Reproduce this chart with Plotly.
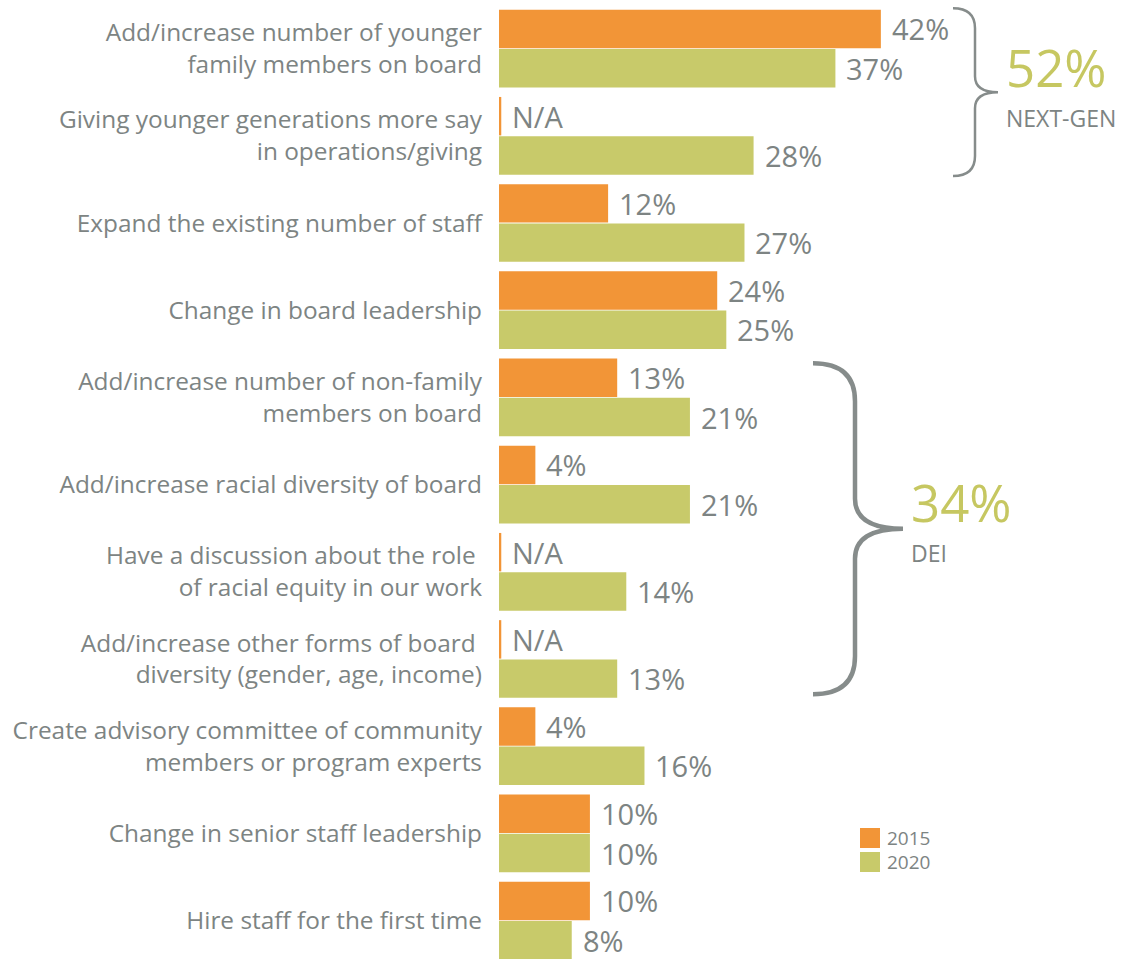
import plotly.graph_objects as go

# ---- data -------------------------------------------------------------
categories = [
    "Add/increase number of younger<br>family members on board",
    "Giving younger generations more say<br>in operations/giving",
    "Expand the existing number of staff",
    "Change in board leadership",
    "Add/increase number of non-family<br>members on board",
    "Add/increase racial diversity of board",
    "Have a discussion about the role\u00a0<br>of racial equity in our work",
    "Add/increase other forms of board\u00a0<br>diversity (gender, age, income)",
    "Create advisory committee of community<br>members or program experts",
    "Change in senior staff leadership",
    "Hire staff for the first time",
]
values_2015 = [42, None, 12, 24, 13, 4, None, None, 4, 10, 10]
values_2020 = [37, 28, 27, 25, 21, 21, 14, 13, 16, 10, 8]

group_names = ["NEXT-GEN", "DEI"]
group_totals = [52, 34]
group_first = [0, 4]
group_last = [1, 7]

# ---- style --------------------------------------------------------------
ORANGE = "#F29537"
GREEN = "#C8CA6A"
GREEN_TEXT = "#C6C761"
GRAY = "#7D8483"
BRACE = "#868C8B"
FONT = "Open Sans"

W, H = 1130, 959
ML, MT = 499, 5
X_MAX = 69.4
PITCH = 87.2                      # pixels per category row
Y_TOP = -0.5
Y_BOTTOM = Y_TOP + (H - MT) / PITCH
PX_PER_PCT = (W - ML) / X_MAX
NA_STUB = 0.25                    # thin sliver drawn where no 2015 figure exists

positions = list(range(len(categories)))
bars_2015 = [v if v is not None else NA_STUB for v in values_2015]


def px_to_x(px):
    return (px - ML) / PX_PER_PCT


def py_to_y(py):
    return (py - MT) / PITCH + Y_TOP


fig = go.Figure()
fig.add_trace(go.Bar(y=positions, x=bars_2015, orientation="h", name="2015",
                     marker=dict(color=ORANGE, line=dict(width=0)),
                     hoverinfo="skip"))
fig.add_trace(go.Bar(y=positions, x=values_2020, orientation="h", name="2020",
                     marker=dict(color=GREEN, line=dict(width=0)),
                     hoverinfo="skip"))

annotations = []
# value labels next to each bar
for i, (a, b) in enumerate(zip(values_2015, values_2020)):
    annotations.append(dict(
        x=bars_2015[i], y=i - 0.225, xref="x", yref="y",
        text=f"{a}%" if a is not None else "N/A",
        xanchor="left", yanchor="middle", xshift=9, showarrow=False,
        font=dict(family=FONT, size=29, color=GRAY)))
    annotations.append(dict(
        x=b, y=i + 0.225, xref="x", yref="y", text=f"{b}%",
        xanchor="left", yanchor="middle", xshift=9, showarrow=False,
        font=dict(family=FONT, size=29, color=GRAY)))

shapes = []


def brace_path(x0, xv, xt, yt, ym, yb, ry, ry2):
    """Right-facing curly brace; all inputs in pixels."""
    pts = [
        ("M", [(x0, yt)]),
        ("Q", [(xv, yt), (xv, yt + ry)]),
        ("L", [(xv, ym - ry2)]),
        ("Q", [(xv, ym), (xt, ym)]),
        ("Q", [(xv, ym), (xv, ym + ry2)]),
        ("L", [(xv, yb - ry)]),
        ("Q", [(xv, yb), (x0, yb)]),
    ]
    out = []
    for cmd, coords in pts:
        out.append(cmd + " " + " ".join(f"{px_to_x(px):.4f},{py_to_y(py):.4f}"
                                        for px, py in coords))
    return " ".join(out)


# brace geometry in pixels: start x, spine x, tip x, curl heights, stroke
brace_geom = [
    dict(x0=953, xv=975, xt=998, pad_top=-1, pad_bot=-1, ry=20, ry2=16, w=2.5,
         big=51, small=23, big_dy=-12, small_dy=-8),
    dict(x0=813, xv=855, xt=903, pad_top=5, pad_bot=4, ry=38, ry2=30, w=4.5,
         big=51, small=23, big_dy=-10, small_dy=-6),
]

for name, total, g0, g1, g in zip(group_names, group_totals, group_first,
                                   group_last, brace_geom):
    top_px = MT + (g0 - 0.45 - Y_TOP) * PITCH + g["pad_top"]
    bot_px = MT + (g1 + 0.45 - Y_TOP) * PITCH - g["pad_bot"]
    mid_px = (top_px + bot_px) / 2
    shapes.append(dict(
        type="path", xref="x", yref="y",
        path=brace_path(g["x0"], g["xv"], g["xt"], top_px, mid_px, bot_px,
                        g["ry"], g["ry2"]),
        line=dict(color=BRACE, width=g["w"])))
    annotations.append(dict(
        x=px_to_x(g["xt"] + 6), y=py_to_y(mid_px), xref="x", yref="y",
        text=f"{total}%", xanchor="left", yanchor="bottom", yshift=g["big_dy"],
        showarrow=False,
        font=dict(family=FONT, size=g["big"], color=GREEN_TEXT)))
    annotations.append(dict(
        x=px_to_x(g["xt"] + 6), y=py_to_y(mid_px), xref="x", yref="y",
        text=name, xanchor="left", yanchor="top", yshift=g["small_dy"],
        showarrow=False,
        font=dict(family=FONT, size=g["small"], color=GRAY)))

# hand-built legend with larger swatches
legend_items = [("2015", ORANGE), ("2020", GREEN)]
for k, (lab, col) in enumerate(legend_items):
    y0 = 828 + 24 * k
    shapes.append(dict(type="rect", xref="x", yref="y",
                       x0=px_to_x(860), x1=px_to_x(880),
                       y0=py_to_y(y0), y1=py_to_y(y0 + 20),
                       fillcolor=col, line=dict(width=0)))
    annotations.append(dict(x=px_to_x(885), y=py_to_y(y0 + 10), xref="x",
                            yref="y", text=lab, xanchor="left",
                            yanchor="middle", showarrow=False,
                            font=dict(family=FONT, size=19, color=GRAY)))

fig.update_layout(
    width=W, height=H,
    margin=dict(l=ML, r=0, t=MT, b=0, pad=0),
    barmode="group", bargap=0.1, bargroupgap=0.02,
    plot_bgcolor="white", paper_bgcolor="white",
    showlegend=False,
    xaxis=dict(range=[0, X_MAX], visible=False, fixedrange=True),
    yaxis=dict(range=[Y_BOTTOM, Y_TOP], tickmode="array", tickvals=positions,
               ticktext=categories, showgrid=False, zeroline=False,
               showline=False, ticks="", ticklabelstandoff=16,
               tickfont=dict(family=FONT, size=24.4, color=GRAY),
               fixedrange=True),
    annotations=annotations,
    shapes=shapes,
    font=dict(family=FONT, color=GRAY),
)

fig.write_html("out.html")
